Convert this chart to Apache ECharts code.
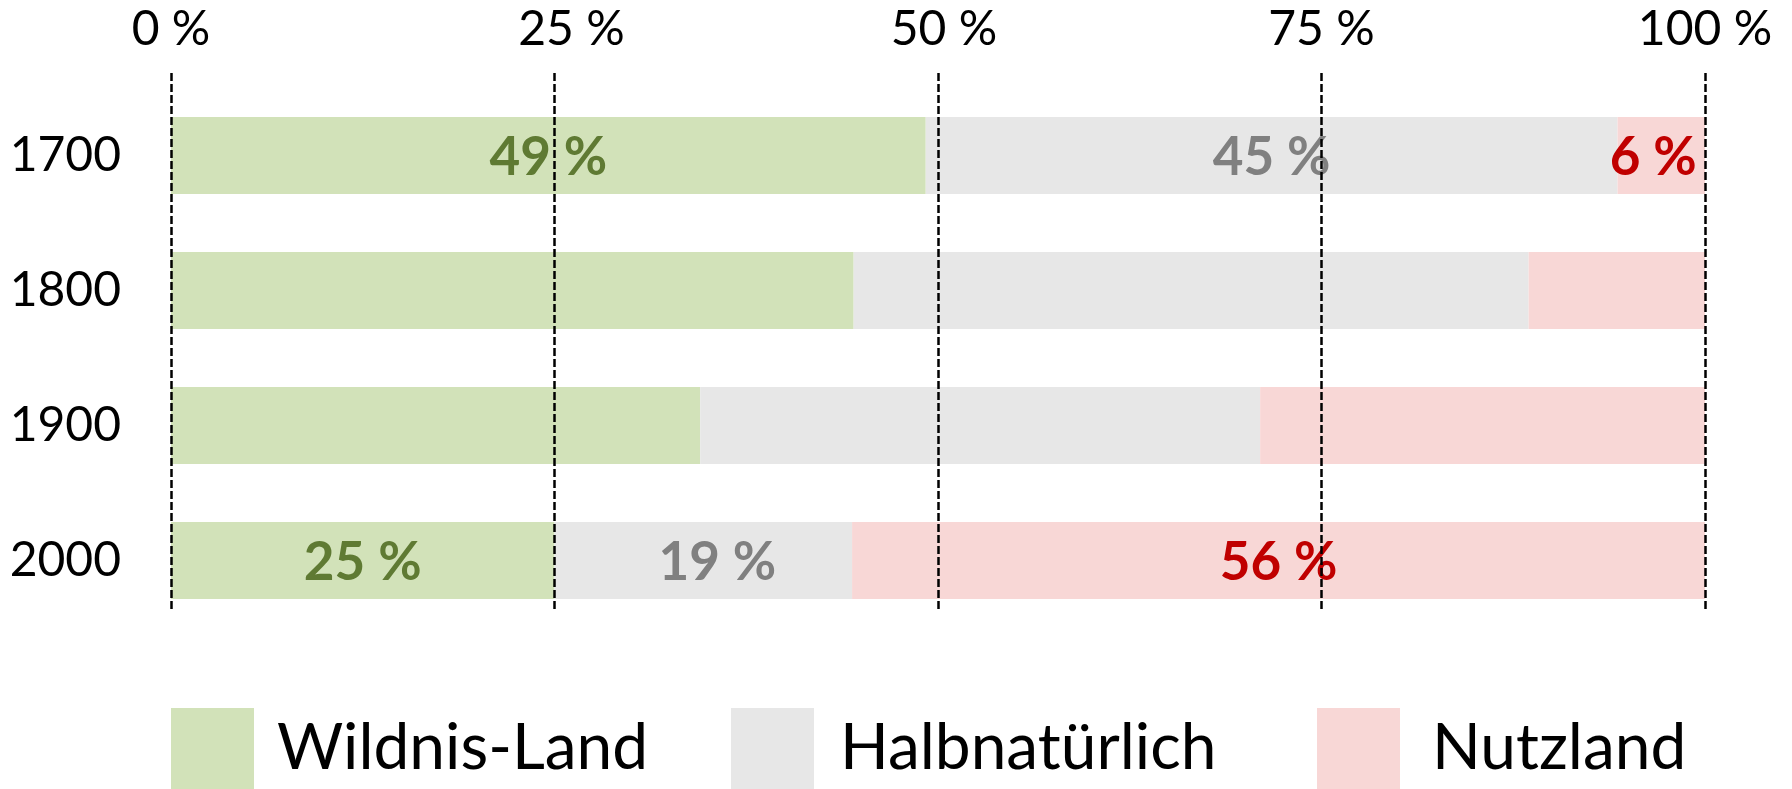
<!DOCTYPE html>
<html>
<head>
<meta charset="utf-8">
<script src="https://cdn.jsdelivr.net/npm/echarts@6/dist/echarts.min.js"></script>
<style>
html,body{margin:0;padding:0;background:#fff;}
#chart{width:1792px;height:789px;}
</style>
</head>
<body>
<div id="chart"></div>
<script>
const categories = ['1700', '1800', '1900', '2000'];
const seriesNames = ['Wildnis-Land', 'Halbnatürlich', 'Nutzland'];
const wildnis = [49.2, 44.5, 34.5, 25];
const halbnatuerlich = [45.1, 44, 36.5, 19.4];
const nutzland = [5.7, 11.5, 29, 55.6];
const labeledRows = [true, false, false, true];
const xTicks = [0, 25, 50, 75, 100];

// styling
const barColors = ['#d2e2b9', '#e7e7e7', '#f8d7d6'];
const labelColors = ['#5f7a33', '#808080', '#c00000'];
const labelNudge = {'1-3': 14, '2-0': -8};        // small horizontal label nudges (px)
const tickNudge = {25: 34, 50: 12};              // left padding for some tick labels (px)
const legendLeft = [171, 731, 1317];
const legendTextPad = [18, 21, 27];
const values = [wildnis, halbnatuerlich, nutzland];

const chart = echarts.init(document.getElementById('chart'), null, {renderer: 'canvas'});

const series = seriesNames.map((name, si) => ({
  name: name,
  type: 'bar',
  stack: 'total',
  xAxisIndex: 0,
  yAxisIndex: 0,
  barWidth: 77,
  itemStyle: {color: barColors[si]},
  data: values[si].map((v, i) => ({
    value: v,
    label: {
      show: labeledRows[i],
      position: 'inside',
      offset: [labelNudge[si + '-' + i] || 0, 2],
      formatter: () => Math.round(v) + ' %',
      color: labelColors[si],
      fontFamily: 'Lato',
      fontWeight: 'bold',
      fontSize: 53
    }
  }))
}));

const legends = seriesNames.map((name, si) => ({
  data: [name],
  left: legendLeft[si],
  top: 708,
  orient: 'horizontal',
  padding: 0,
  itemWidth: 83,
  itemHeight: 81,
  icon: 'rect',
  selectedMode: false,
  textStyle: {
    fontFamily: 'Lato',
    fontSize: 64,
    color: '#000',
    padding: [10, 0, 0, legendTextPad[si]]
  }
}));

const tickRich = {};
xTicks.forEach(t => {
  tickRich['t' + t] = {
    fontFamily: 'Lato', fontSize: 48, color: '#000',
    padding: [0, 0, 0, tickNudge[t] || 0]
  };
});

chart.setOption({
  animation: false,
  backgroundColor: '#fff',
  color: barColors,
  legend: legends,
  grid: [
    {left: 171, width: 1534, top: 88, height: 540},
    {left: 171, width: 1534, top: 73, height: 539}
  ],
  xAxis: [
    {
      gridIndex: 0, type: 'value', min: 0, max: 100, interval: 25,
      show: false
    },
    {
      gridIndex: 1, type: 'value', position: 'top', min: xTicks[0], max: xTicks[xTicks.length - 1], interval: 25,
      z: 10,
      axisLine: {show: false},
      axisTick: {show: false},
      axisLabel: {
        formatter: v => '{t' + v + '|' + v + ' %}',
        rich: tickRich,
        fontFamily: 'Lato',
        fontSize: 48,
        color: '#000',
        margin: 19
      },
      splitLine: {show: true, lineStyle: {color: '#000', width: 2.5, type: [8, 3]}}
    }
  ],
  yAxis: [
    {
      gridIndex: 0, type: 'category', data: categories, inverse: true,
      axisLine: {show: false},
      axisTick: {show: false},
      splitLine: {show: false},
      axisLabel: {fontFamily: 'Lato', fontSize: 48, color: '#000', margin: 50}
    },
    {
      gridIndex: 1, type: 'category', data: categories, show: false
    }
  ],
  series: series
});
</script>
</body>
</html>
